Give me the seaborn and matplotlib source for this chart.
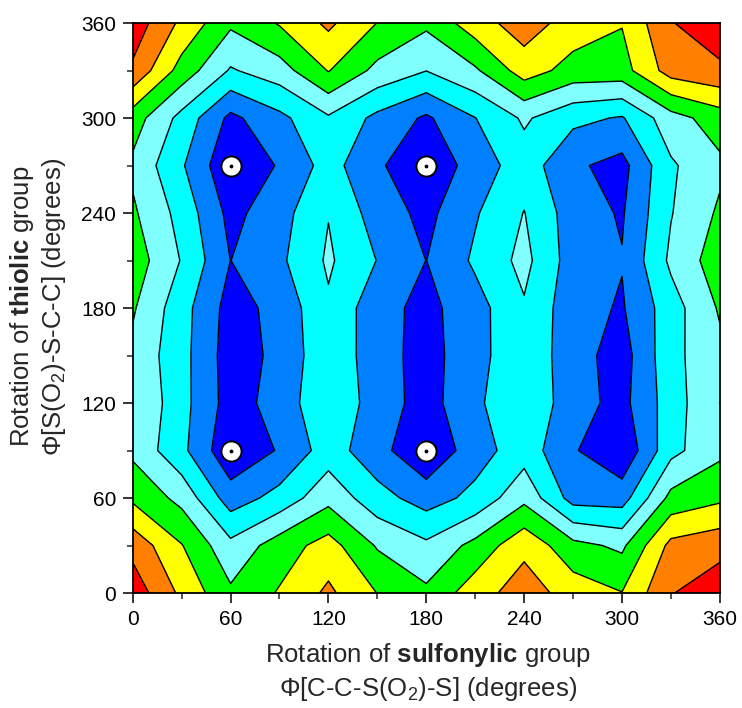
import numpy as np
import matplotlib
matplotlib.use("Agg")
import matplotlib.pyplot as plt
from matplotlib.ticker import MultipleLocator
import seaborn as sns

# Torsion grids (degrees), 30-degree steps
phi_sulfonylic = [0, 30, 60, 90, 120, 150, 180, 210, 240, 270, 300, 330, 360]
phi_thiolic = [0, 30, 60, 90, 120, 150, 180, 210, 240, 270, 300, 330, 360]

# Relative energy on the grid, one row per thiolic angle (x = sulfonylic angle)
e_thiol_000 = [7.6, 5.78, 4.18, 5.09, 6.2, 4.98, 4.2, 5.56, 6.5, 5.56, 5.03, 6.95, 7.6]
e_thiol_030 = [6.67, 5.05, 3.27, 4.5, 5.41, 3.9, 3.2, 4.3, 5.74, 4.3, 3.8, 6.29, 6.67]
e_thiol_060 = [4.8, 3.7, 1.49, 2.35, 3.69, 2.38, 1.55, 2.28, 3.73, 1.6, 1.55, 4.3, 4.8]
e_thiol_090 = [3.77, 2.26, 0.2, 1.09, 2.49, 1.35, 0.15, 1.55, 2.56, 1.1, 0.17, 2.7, 3.77]
e_thiol_120 = [4.01, 2.35, 0.56, 1.39, 2.88, 1.5, 0.6, 1.78, 2.94, 1.37, 0.7, 2.5, 4.01]
e_thiol_150 = [3.75, 2.35, 0.5, 1.25, 2.75, 1.43, 0.61, 1.65, 2.75, 1.42, 0.55, 2.7, 3.75]
e_thiol_180 = [4.12, 2.4, 0.6, 1.31, 2.85, 1.36, 0.71, 1.6, 2.89, 1.38, 0.9, 2.55, 4.12]
e_thiol_210 = [4.55, 2.94, 0.99, 1.8, 3.15, 1.97, 0.99, 2.17, 3.3, 1.51, 1.05, 3.2, 4.55]
e_thiol_240 = [4.16, 2.65, 0.7, 1.6, 2.96, 1.53, 0.72, 1.9, 3.03, 1.49, 0.9, 2.95, 4.16]
e_thiol_270 = [3.8, 2.12, 0.16, 1.09, 2.4, 1.15, 0.25, 1.43, 2.54, 1.165, 0.67, 2.86, 3.8]
e_thiol_300 = [4.49, 2.68, 0.75, 1.74, 2.87, 1.74, 0.84, 1.98, 3.15, 2.25, 1.91, 3.6, 4.49]
e_thiol_330 = [6.82, 4.6, 2.9, 3.55, 5.05, 3.72, 3.02, 3.85, 5.48, 4.62, 4.6, 6.45, 6.82]
e_thiol_360 = [7.6, 5.78, 4.18, 5.09, 6.2, 4.98, 4.2, 5.56, 6.5, 5.56, 5.05, 6.95, 7.6]

# Contour band edges and fill colours (low -> high)
band_edges = [0, 1, 2, 3, 4, 5, 6, 7, 8]
band_colors = ["#0000FF", "#0080FF", "#00FFFF", "#80FFFF",
               "#00FF00", "#FFFF00", "#FF8000", "#FF0000"]

# Conformational minima
minima_x = [60, 60, 180, 180]
minima_y = [270, 90, 270, 90]

sns.set_theme(style="ticks")
plt.rcParams["font.family"] = ["Liberation Sans", "DejaVu Sans"]
plt.rcParams["mathtext.fontset"] = "custom"
plt.rcParams["mathtext.rm"] = "Liberation Sans"
plt.rcParams["mathtext.bf"] = "Liberation Sans:bold"
plt.rcParams["mathtext.it"] = "Liberation Sans:italic"

energy = np.array([e_thiol_000, e_thiol_030, e_thiol_060, e_thiol_090,
                   e_thiol_120, e_thiol_150, e_thiol_180, e_thiol_210,
                   e_thiol_240, e_thiol_270, e_thiol_300, e_thiol_330,
                   e_thiol_360])
X, Y = np.meshgrid(phi_sulfonylic, phi_thiolic)

fig = plt.figure(figsize=(7.42, 7.08), dpi=100)
ax = fig.add_axes([0.1788, 0.1624, 0.7914, 0.8051])

ax.contourf(X, Y, energy, levels=band_edges, colors=band_colors)
ax.contour(X, Y, energy, levels=band_edges[1:-1], colors="black",
           linewidths=1.0)

sns.scatterplot(x=minima_x, y=minima_y, s=210, color="white",
                edgecolor="black", linewidth=1.4, ax=ax, zorder=5,
                legend=False)
ax.scatter(minima_x, minima_y, s=3, color="black", zorder=6)

ax.set_xlim(0, 360)
ax.set_ylim(0, 360)
ax.set_xticks(range(0, 361, 60))
ax.set_yticks(range(0, 361, 60))
ax.xaxis.set_minor_locator(MultipleLocator(30))
ax.yaxis.set_minor_locator(MultipleLocator(30))
ax.tick_params(which="major", direction="out", length=7, width=1.1,
               labelsize=15, colors="black", pad=5,
               top=False, right=False, bottom=True, left=True)
ax.tick_params(which="minor", direction="out", length=4, width=1.1,
               top=False, right=False, bottom=True, left=True)
for sp in ax.spines.values():
    sp.set_visible(True)
    sp.set_color("black")
    sp.set_linewidth(1.3)

fig.text(0.577, 0.075, r"Rotation of $\mathbf{sulfonylic}$ group",
         ha="center", va="center", fontsize=18.5)
fig.text(0.577, 0.027, r"$\Phi$[C-C-S(O$_2$)-S] (degrees)",
         ha="center", va="center", fontsize=18.5)
fig.text(0.030, 0.567, r"Rotation of $\mathbf{thiolic}$ group",
         ha="center", va="center", rotation=90, fontsize=18.5)
fig.text(0.073, 0.567, r"$\Phi$[S(O$_2$)-S-C-C] (degrees)",
         ha="center", va="center", rotation=90, fontsize=18.5)

fig.savefig("out.png", dpi=100)
